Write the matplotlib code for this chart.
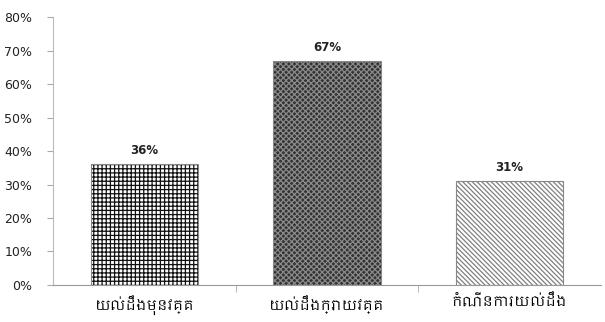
import matplotlib
matplotlib.use("Agg")
import matplotlib.pyplot as plt
from matplotlib import font_manager
from matplotlib.ticker import PercentFormatter

categories = ["យល់ដឹងមុនវគ្គ", "យល់ដឹងក្រោយវគ្គ", "កំណើនការយល់ដឹង"]
values = [36, 67, 31]
value_labels = ["36%", "67%", "31%"]

# look for any installed font that has Khmer glyphs
khmer_font = None
for f in font_manager.fontManager.ttflist:
    if "Khmer" in f.name:
        khmer_font = f.name
        break
label_family = [khmer_font, "DejaVu Sans"] if khmer_font else ["DejaVu Sans"]

plt.rcParams["hatch.linewidth"] = 0.9

fig = plt.figure(figsize=(6.05, 3.22), dpi=100)
ax = fig.add_axes([0.088, 0.115, 0.905, 0.832])

styles = [
    dict(facecolor="white", hatch="++++", hatch_color="#111111"),
    dict(facecolor="#333333", hatch="xxxxxx", hatch_color="#8a8a8a"),
    dict(facecolor="white", hatch="\\\\\\\\\\\\\\", hatch_color="#808080"),
]

for i, (v, st) in enumerate(zip(values, styles)):
    ax.bar(i, v, width=0.59, facecolor=st["facecolor"], edgecolor=st["hatch_color"],
           hatch=st["hatch"], linewidth=0)
    # outline
    ax.bar(i, v, width=0.59, facecolor="none", edgecolor="#888888", linewidth=0.8)
    ax.annotate(value_labels[i], (i, v), xytext=(0, 5), textcoords="offset points",
                ha="center", va="bottom", fontsize=8.5, fontweight="bold", color="#222222")

ax.set_xlim(-0.5, 2.5)
ax.set_ylim(0, 80)
ax.set_yticks(range(0, 81, 10))
ax.yaxis.set_major_formatter(PercentFormatter(decimals=0))
ax.tick_params(axis="y", labelsize=9, length=4, color="#aaaaaa", pad=11, labelcolor="#222222")

ax.set_xticks(range(len(categories)))
ax.set_xticklabels(categories, fontsize=10, family=label_family)
ax.tick_params(axis="x", length=0, pad=7)
ax.set_xticks([0.5, 1.5], minor=True)
ax.tick_params(axis="x", which="minor", length=5, color="#aaaaaa")

for s in ["top", "right"]:
    ax.spines[s].set_visible(False)
ax.spines["left"].set_color("#bbbbbb")
ax.spines["bottom"].set_color("#999999")

plt.savefig("out.png", dpi=100)
